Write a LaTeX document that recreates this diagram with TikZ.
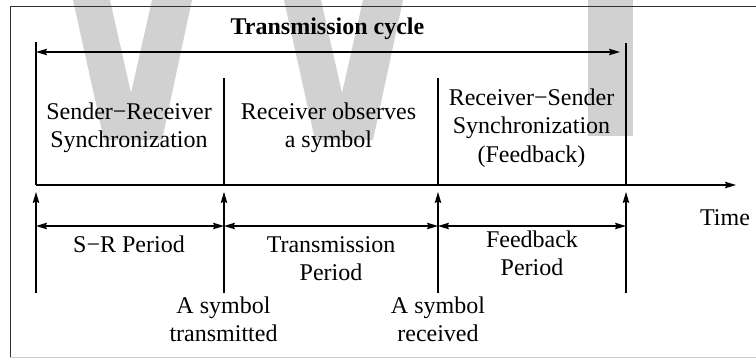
\documentclass[tikz,border=0pt]{standalone}
\usepackage{fontspec}
\setmainfont{Liberation Serif}
\usetikzlibrary{arrows.meta}

\begin{document}
\begin{tikzpicture}[x=1pt,y=-1pt,
  line width=1.2pt,
  >={Stealth[length=11pt,width=6.5pt,inset=1.5pt]},
  wm/.style={fill=black!18,draw=none},
  frameline/.style={line width=0.9pt,draw=black!80},
  lbl/.style={font=\fontsize{24}{28.5}\selectfont,inner sep=0pt,anchor=base,align=center},
  ttl/.style={lbl,font=\fontsize{24}{28.5}\selectfont\bfseries}]
\useasboundingbox (0,0) rectangle (756,359);

% background letters
\fill[wm] (73,0) -- (110,0) -- (131,93) -- (152,0) -- (192,0) -- (162,140) -- (104,140) -- cycle;
\begin{scope}[xshift=211pt]
  \fill[wm] (73,0) -- (110,0) -- (131,93) -- (152,0) -- (192,0) -- (162,140) -- (104,140) -- cycle;
\end{scope}
\fill[wm] (588,0) rectangle (633,136);

% frame
\draw[frameline] (756,6) -- (10,6) -- (10,357);
\draw[line width=0.9pt,black!20] (10,357) -- (756,357);

% time axis and markers
\coordinate (t0) at (36,185);
\coordinate (t1) at (224,185);
\coordinate (t2) at (438,185);
\coordinate (t3) at (626,185);
\coordinate (tend) at (736,185);
\coordinate (c0) at (36,42);
\coordinate (c3) at (626,43);
\coordinate (d1) at (224,78);
\coordinate (d2) at (438,78);
\coordinate (a0) at (36,52);
\coordinate (a3) at (620,52);
\foreach \i/\x in {0/36,1/224,2/438,3/626} {
  \coordinate (b\i) at (\x,293);
  \coordinate (u\i) at (\x,192);
  \coordinate (p\i) at (\x,226);
}

\draw (c0) -- (t0);
\draw (c3) -- (t3);
\draw (d1) -- (t1);
\draw (d2) -- (t2);
\draw[->] (t0) -- (tend);
\draw[<->] (a0) -- (a3);
\foreach \i in {0,1,2,3} { \draw[->] (b\i) -- (u\i); }
\draw[<->] (p0) -- (p1);
\draw[<->] (p1) -- (p2);
\draw[<->] (p2) -- (p3);

% labels (anchor base = baseline of the last line)
\node[ttl] (title) at (327.5,34) {Transmission cycle};
\node[lbl] (sync1) at (129,147.5) {Sender−Receiver\\Synchronization};
\node[lbl] (obs) at (328.5,147.5) {Receiver observes\\a symbol};
\node[lbl] (sync2) at (531.5,162) {Receiver−Sender\\Synchronization\\(Feedback)};
\node[lbl] (srp) at (129,252) {S−R Period};
\node[lbl] (tp) at (331,280.5) {Transmission\\Period};
\node[lbl] (fp) at (532,275.5) {Feedback\\Period};
\node[lbl] (sent) at (223.5,341.5) {A symbol\\transmitted};
\node[lbl] (recv) at (438,341.5) {A symbol\\received};
\node[lbl] (time) at (725,225) {Time};
\end{tikzpicture}
\end{document}
